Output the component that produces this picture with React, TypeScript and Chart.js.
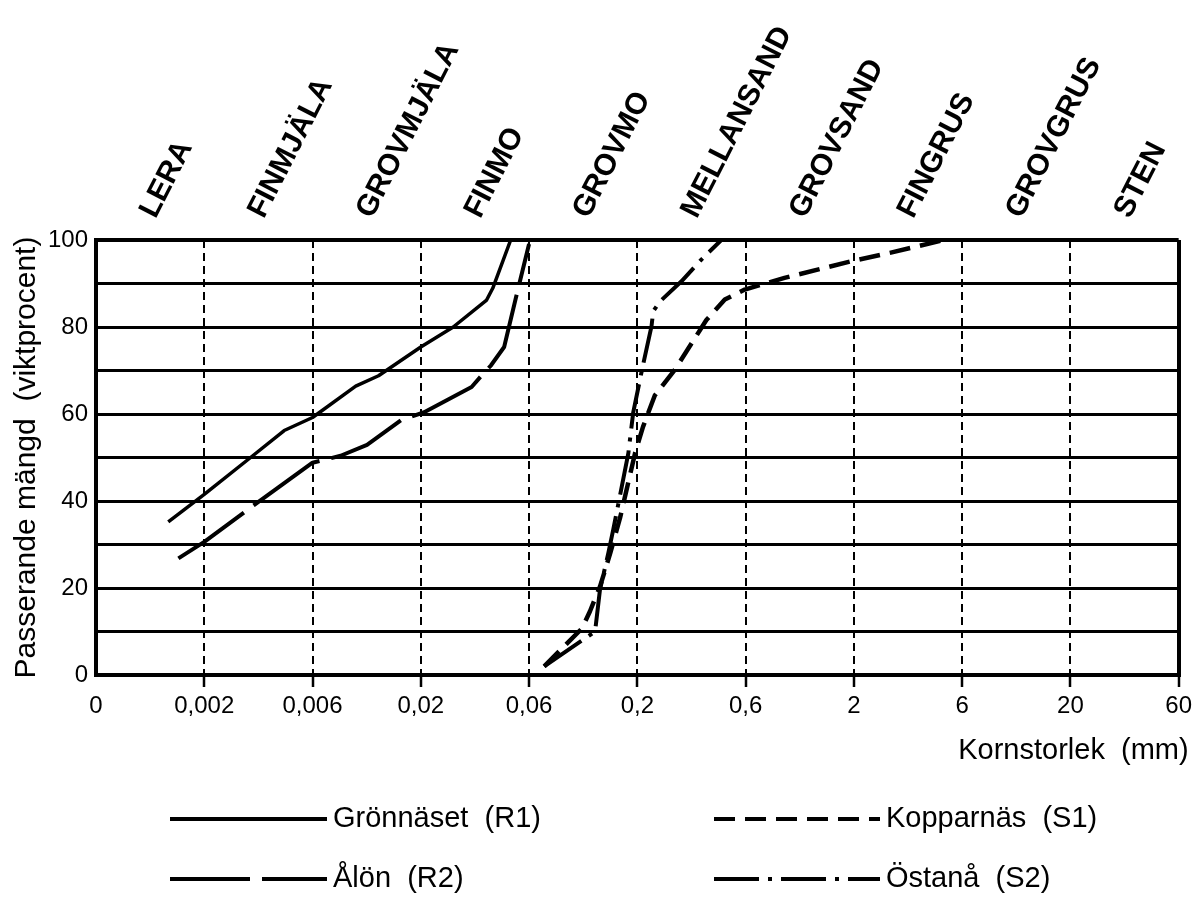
import React, { useEffect, useRef } from 'react';
import { Chart, registerables } from 'chart.js';

Chart.register(...registerables);

// Grain-size class boundaries in mm; the first one stands in for the "0" end of the axis.
const BOUNDARY_MM = [0.0006, 0.002, 0.006, 0.02, 0.06, 0.2, 0.6, 2, 6, 20, 60];
const BOUNDARY_LABELS = ['0', '0,002', '0,006', '0,02', '0,06', '0,2', '0,6', '2', '6', '20', '60'];
const SOIL_CLASSES = ['LERA', 'FINMJÄLA', 'GROVMJÄLA', 'FINMO', 'GROVMO', 'MELLANSAND', 'GROVSAND', 'FINGRUS', 'GROVGRUS', 'STEN'];

const PERCENT_TICKS = [0, 10, 20, 30, 40, 50, 60, 70, 80, 90, 100];
const PERCENT_LABELS = ['0', '', '20', '', '40', '', '60', '', '80', '', '100'];

const Y_TITLE = 'Passerande mängd  (viktprocent)';
const X_TITLE = 'Kornstorlek  (mm)';

// Grading curves: grain size (mm) and passing amount (weight %)
const GRONNASET_MM = [0.00134, 0.002, 0.0032, 0.0045, 0.006, 0.0097, 0.0125, 0.02, 0.0278, 0.039, 0.0415, 0.0498];
const GRONNASET_PCT = [35.2, 41.5, 50, 56.2, 59.2, 66.4, 68.8, 75.4, 80, 86.2, 88.9, 100];

const ALON_MM = [0.0015, 0.002, 0.0033, 0.006, 0.0082, 0.011, 0.0161, 0.0207, 0.0335, 0.037, 0.0408, 0.0466, 0.0526, 0.06];
const ALON_PCT = [26.8, 30.6, 39, 48.8, 50.4, 52.9, 58.6, 60.4, 66.2, 68.8, 71.2, 75.4, 86.9, 99.1];

const KOPPARNAS_MM = [0.071, 0.108, 0.118, 0.132, 0.148, 0.165, 0.195, 0.212, 0.239, 0.293, 0.403, 0.486, 0.595, 0.925, 1.94, 2.91, 5.0];
const KOPPARNAS_PCT = [2, 10.7, 14.6, 20.3, 28, 36.1, 51, 57.1, 64.3, 70.2, 81.6, 86.3, 88.6, 91.3, 95.1, 97.1, 100];

const OSTANA_MM = [0.071, 0.125, 0.132, 0.145, 0.153, 0.181, 0.191, 0.209, 0.231, 0.235, 0.252, 0.313, 0.383, 0.469, 0.889];
const OSTANA_PCT = [2, 10, 19.6, 28.1, 33.4, 51, 60.3, 69.8, 80.2, 83.6, 85.9, 90.5, 95.5, 100, 100];

const FONT = '"Liberation Sans", Arial, Helvetica, sans-serif';

// Position along the class axis: each class interval is one unit, logarithmic inside it.
function sizeToPos(mm: number): number {
  const last = BOUNDARY_MM.length - 2;
  for (let i = 0; i <= last; i++) {
    const a = BOUNDARY_MM[i];
    const b = BOUNDARY_MM[i + 1];
    if (mm <= b || i === last) {
      return i + Math.log(mm / a) / Math.log(b / a);
    }
  }
  return 0;
}

function curve(mm: number[], pct: number[]) {
  return mm.map((d, i) => ({ x: sizeToPos(d), y: pct[i] }));
}

const SERIES = [
  { label: 'Grönnäset  (R1)', mm: GRONNASET_MM, pct: GRONNASET_PCT, dash: [] as number[], width: 3.5 },
  { label: 'Ålön  (R2)', mm: ALON_MM, pct: ALON_PCT, dash: [80, 12], width: 4 },
  { label: 'Kopparnäs  (S1)', mm: KOPPARNAS_MM, pct: KOPPARNAS_PCT, dash: [21, 10], width: 4.5 },
  { label: 'Östanå  (S2)', mm: OSTANA_MM, pct: OSTANA_PCT, dash: [45, 9, 4, 9], width: 4 },
];

// Axis title under the scale and the two-column legend below the plot
const sheetText = {
  id: 'sheetText',
  afterDraw(chart: any) {
    const ctx: CanvasRenderingContext2D = chart.ctx;
    const area = chart.chartArea;
    ctx.save();
    ctx.fillStyle = '#000';
    ctx.strokeStyle = '#000';
    ctx.font = `29px ${FONT}`;
    ctx.textBaseline = 'middle';
    ctx.textAlign = 'right';
    ctx.fillText(X_TITLE, area.right + 10, area.bottom + 76);

    const cols = [
      { x: 170, w: 157 },
      { x: 714, w: 166 },
    ];
    const rows = [area.bottom + 144, area.bottom + 204];
    chart.data.datasets.forEach((ds: any, i: number) => {
      const col = cols[Math.floor(i / 2)];
      const y = rows[i % 2];
      ctx.lineWidth = 4;
      ctx.lineCap = 'butt';
      ctx.setLineDash(ds.borderDash || []);
      ctx.beginPath();
      ctx.moveTo(col.x, y);
      ctx.lineTo(col.x + col.w, y);
      ctx.stroke();
      ctx.setLineDash([]);
      ctx.textAlign = 'left';
      ctx.fillText(ds.label, col.x + col.w + 6, y);
    });
    ctx.restore();
  },
};

export default function App() {
  const canvasRef = useRef<HTMLCanvasElement>(null);

  useEffect(() => {
    const canvas = canvasRef.current;
    if (!canvas) return;
    Chart.defaults.font.family = FONT;
    Chart.defaults.color = '#000';

    const chart = new Chart(canvas, {
      type: 'line',
      data: {
        datasets: SERIES.map((s) => ({
          label: s.label,
          data: curve(s.mm, s.pct),
          borderColor: '#000',
          borderWidth: s.width,
          borderDash: s.dash,
          borderJoinStyle: 'round',
          pointRadius: 0,
          tension: 0,
          fill: false,
          xAxisID: 'x',
          yAxisID: 'y',
        })),
      },
      options: {
        animation: false,
        responsive: false,
        devicePixelRatio: 1,
        layout: { padding: { left: 0, right: 15, top: 0, bottom: 0 } },
        plugins: {
          legend: { display: false },
          tooltip: { enabled: false },
        },
        scales: {
          x: {
            type: 'linear',
            position: 'bottom',
            min: 0,
            max: BOUNDARY_MM.length - 1,
            afterBuildTicks: (s: any) => {
              s.ticks = BOUNDARY_LABELS.map((_, i) => ({ value: i }));
            },
            afterFit: (s: any) => {
              s.height = 228;
            },
            ticks: {
              autoSkip: false,
              maxRotation: 0,
              minRotation: 0,
              padding: 5,
              color: '#000',
              font: { size: 24 },
              callback: (v: any) => BOUNDARY_LABELS[Math.round(v)] ?? '',
            },
            grid: {
              color: '#000',
              lineWidth: (c: any) => (c.index === 0 || c.index === BOUNDARY_MM.length - 1 ? 4 : 2),
              drawTicks: true,
              tickLength: 12,
              tickWidth: 2.5,
              tickColor: (c: any) => (c.index === 0 ? 'rgba(0,0,0,0)' : '#000'),
              tickBorderDash: [],
            },
            border: {
              display: true,
              color: '#000',
              width: 4,
              dash: (c: any) =>
                c.type === 'tick' && c.index > 0 && c.index < BOUNDARY_MM.length - 1 ? [8, 5] : [],
            },
          },
          xTop: {
            type: 'linear',
            axis: 'x',
            position: 'top',
            min: 0,
            max: SOIL_CLASSES.length,
            afterBuildTicks: (s: any) => {
              s.ticks = SOIL_CLASSES.map((_, i) => ({ value: i + 0.5 }));
            },
            afterFit: (s: any) => {
              s.height = 240;
            },
            ticks: {
              autoSkip: false,
              minRotation: 63,
              maxRotation: 63,
              padding: 16,
              labelOffset: 30,
              color: '#000',
              font: { size: 30, weight: 'bold' },
              callback: (v: any) => SOIL_CLASSES[Math.floor(v)] ?? '',
            },
            grid: { display: false, drawTicks: false },
            border: { display: false },
          },
          y: {
            type: 'linear',
            position: 'left',
            min: 0,
            max: 100,
            afterBuildTicks: (s: any) => {
              s.ticks = PERCENT_TICKS.map((v) => ({ value: v }));
            },
            afterFit: (s: any) => {
              s.width = 96;
            },
            ticks: {
              padding: 8,
              color: '#000',
              font: { size: 24 },
              callback: (v: any) => PERCENT_LABELS[PERCENT_TICKS.indexOf(Number(v))] ?? '',
            },
            grid: {
              color: '#000',
              lineWidth: (c: any) => (c.tick && (c.tick.value === 0 || c.tick.value === 100) ? 4 : 3),
              drawTicks: false,
            },
            border: { display: true, color: '#000', width: 4 },
            title: {
              display: true,
              text: Y_TITLE,
              color: '#000',
              font: { size: 30 },
              padding: { top: 9, bottom: 0 },
            },
          },
        },
      },
      plugins: [sheetText],
    } as any);

    return () => chart.destroy();
  }, []);

  return (
    <div style={{ position: 'absolute', left: 0, top: 0, width: 1197, height: 903, background: '#fff' }}>
      <canvas ref={canvasRef} width={1197} height={903} style={{ display: 'block' }} />
    </div>
  );
}
